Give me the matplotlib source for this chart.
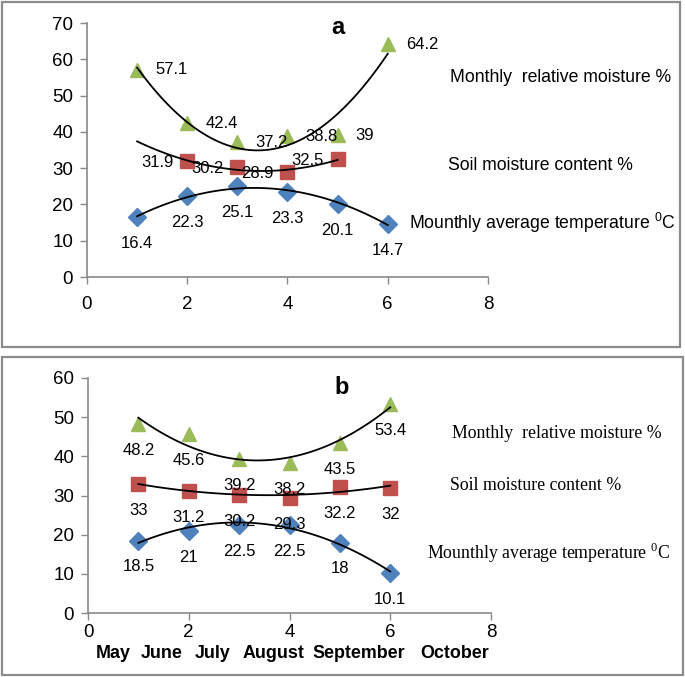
import numpy as np
import matplotlib
matplotlib.use("Agg")
import matplotlib.pyplot as plt
from matplotlib.patches import Rectangle

plt.rcParams['font.family'] = ['Liberation Sans', 'DejaVu Sans']

months = [1, 2, 3, 4, 5, 6]
month_names = ["May", "June", "July", "August", "September", "October"]

# panel a
temp_a = [16.4, 22.3, 25.1, 23.3, 20.1, 14.7]
soil_x_a = [2, 3, 4, 5]
soil_a = [31.9, 30.2, 28.9, 32.5]
moist_a = [57.1, 42.4, 37.2, 38.8, 39, 64.2]

# panel b
temp_b = [18.5, 21, 22.5, 22.5, 18, 10.1]
soil_b = [33, 31.2, 30.2, 29.3, 32.2, 32]
moist_b = [48.2, 45.6, 39.2, 38.2, 43.5, 53.4]

BLUE = '#4F81BD'
RED = '#C0504D'
GREEN = '#9BBB59'
GRAY = '#898989'
FS = 12

W, H = 685, 677
fig = plt.figure(figsize=(W / 100, H / 100), dpi=100)


def px(x, y):
    return x / W, 1 - y / H


def box(x0, y0, x1, y1):
    fig.patches.append(Rectangle((x0 / W, 1 - y1 / H), (x1 - x0) / W, (y1 - y0) / H,
                                 transform=fig.transFigure, fill=False,
                                 edgecolor='#8c8c8c', lw=1.6))


box(1.5, 1.5, 680, 347)
box(1.5, 357, 683, 675)


def make_ax(l, t, r, b, ymax, xpad):
    ax = fig.add_axes([l / W, 1 - b / H, (r - l) / W, (b - t) / H])
    ax.set_xlim(0, 8)
    ax.set_ylim(0, ymax)
    ax.set_xticks([0, 2, 4, 6, 8])
    ax.set_yticks(np.arange(0, ymax + 1, 10))
    for s in ['top', 'right']:
        ax.spines[s].set_visible(False)
    for s in ['left', 'bottom']:
        ax.spines[s].set_color(GRAY)
        ax.spines[s].set_linewidth(1.2)
    ax.tick_params(colors=GRAY, labelcolor='black', labelsize=13.5,
                   length=5, width=1)
    ax.tick_params(axis='y', pad=5)
    ax.tick_params(axis='x', pad=xpad)
    ax.patch.set_alpha(0)
    return ax


def trend(ax, x, y, x0, x1):
    c = np.polyfit(x, y, 2)
    xs = np.linspace(x0, x1, 100)
    ax.plot(xs, np.polyval(c, xs), color='black', lw=1.3, zorder=3)


def labels(ax, x, y, where):
    for xi, yi in zip(x, y):
        if where == 'right':
            ax.annotate(f"{yi:g}", (xi, yi), xytext=(13, 0), textcoords='offset points',
                        ha='left', va='center', fontsize=FS)
        elif where == 'left':
            ax.annotate(f"{yi:g}", (xi, yi), xytext=(-10, -1), textcoords='offset points',
                        ha='right', va='center', fontsize=FS)
        else:
            ax.annotate(f"{yi:g}", (xi, yi), xytext=(0, -19), textcoords='offset points',
                        ha='center', va='center', fontsize=FS)


# ---- panel a
ax1 = make_ax(87, 23, 488, 277, 70, 9)
ax1.plot(months, temp_a, 'D', color=BLUE, ms=9, zorder=2)
ax1.plot(soil_x_a, soil_a, 's', color=RED, ms=10, zorder=2)
ax1.plot(months, moist_a, '^', color=GREEN, ms=10, zorder=2)
trend(ax1, months, temp_a, 1, 6)
trend(ax1, soil_x_a, soil_a, 1, 5)
trend(ax1, months, moist_a, 1, 6)
labels(ax1, months, temp_a, 'below')
labels(ax1, soil_x_a, soil_a, 'left')
labels(ax1, months, moist_a, 'right')

fig.text(*px(331, 27), "a", fontsize=17, fontweight='bold', va='center')
fig.text(*px(450, 77), "Monthly  relative moisture %", fontsize=12.7, va='center')
fig.text(*px(448, 165), "Soil moisture content %", fontsize=12.7, va='center')
fig.text(*px(409, 223), r"Mounthly average temperature $^{\mathregular{0}}$C",
         fontsize=12.7, va='center')

# ---- panel b
ax2 = make_ax(88, 378, 491, 613, 60, 3)
ax2.plot(months, temp_b, 'D', color=BLUE, ms=9, zorder=2)
ax2.plot(months, soil_b, 's', color=RED, ms=10, zorder=2)
ax2.plot(months, moist_b, '^', color=GREEN, ms=10, zorder=2)
trend(ax2, months, temp_b, 1, 6)
trend(ax2, months, soil_b, 1, 6)
trend(ax2, months, moist_b, 1, 6)
labels(ax2, months, temp_b, 'below')
labels(ax2, months, soil_b, 'below')
labels(ax2, months, moist_b, 'below')

fig.text(*px(334, 387), "b", fontsize=17, fontweight='bold', va='center')
serif = ['Liberation Serif', 'DejaVu Serif']
fig.text(*px(452, 433), "Monthly  relative moisture %", fontsize=12.8,
         family=serif, va='center')
fig.text(*px(450, 485), "Soil moisture content %", fontsize=12.8,
         family=serif, va='center')
fig.text(*px(427, 553), r"Mounthly average temperature $^{\mathregular{0}}$C",
         fontsize=12.8, family=serif, va='center')

name_x = [113, 162, 213, 273, 359, 455]
for nx, name in zip(name_x, month_names):
    fig.text(*px(nx, 653), name, fontsize=12.9, fontweight='bold',
             ha='center', va='center')

fig.savefig("out.png", dpi=100)
